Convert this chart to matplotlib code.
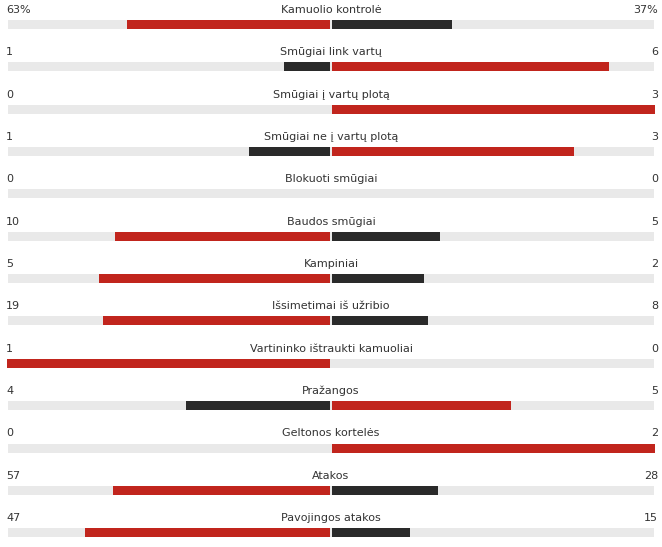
import matplotlib
matplotlib.use("Agg")
import matplotlib.pyplot as plt

labels = ["Kamuolio kontrolė", "Smūgiai link vartų", "Smūgiai į vartų plotą",
          "Smūgiai ne į vartų plotą", "Blokuoti smūgiai", "Baudos smūgiai",
          "Kampiniai", "Išsimetimai iš užribio", "Vartininko ištraukti kamuoliai",
          "Pražangos", "Geltonos kortelės", "Atakos", "Pavojingos atakos"]
home = [63, 1, 0, 1, 0, 10, 5, 19, 1, 4, 0, 57, 47]
away = [37, 6, 3, 3, 0, 5, 2, 8, 0, 5, 2, 28, 15]
suffix = ["%", "", "", "", "", "", "", "", "", "", "", "", ""]

RED = "#c1251d"
DARK = "#2a2a2a"
TRACK = "#e9e9e9"
LEFT, RIGHT, CENTER = 8, 654, 331
HALF = CENTER - LEFT

fig = plt.figure(figsize=(6.62, 5.47), dpi=100)
ax = fig.add_axes([0, 0, 1, 1])
ax.set_xlim(0, 662)
ax.set_ylim(547, 0)
ax.axis("off")

for i, (lab, h, a, s) in enumerate(zip(labels, home, away, suffix)):
    ty = 10 + i * 42.35
    by = ty + 14.5
    ax.text(CENTER, ty, lab, ha="center", va="center", fontsize=8, color="#333333")
    ax.text(LEFT - 2, ty, f"{h}{s}", ha="left", va="center", fontsize=8, color="#333333")
    ax.text(RIGHT + 4, ty, f"{a}{s}", ha="right", va="center", fontsize=8, color="#333333")
    ax.barh(by, RIGHT - LEFT, left=LEFT, height=9, color=TRACK)
    tot = h + a
    if tot == 0:
        continue
    hl = h / tot * HALF
    al = a / tot * HALF
    hc = RED if h >= a else DARK
    ac = RED if a >= h else DARK
    ax.barh(by, hl, left=CENTER - 1 - hl, height=9, color=hc)
    ax.barh(by, al, left=CENTER + 1, height=9, color=ac)

fig.savefig("out.png", dpi=100)
